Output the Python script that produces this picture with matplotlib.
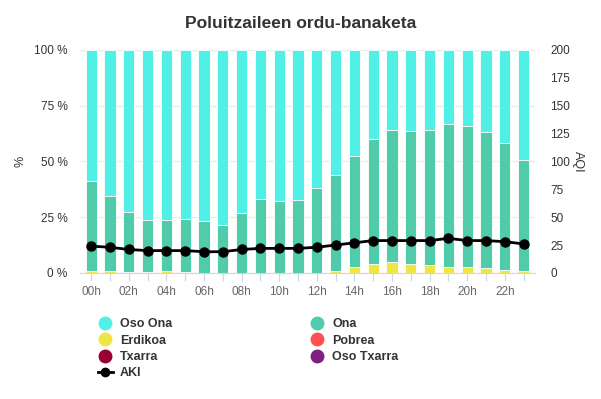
import numpy as np
import matplotlib
matplotlib.use('Agg')
from matplotlib import pyplot as plt
from matplotlib.lines import Line2D

plt.rcParams['font.family'] = ['Liberation Sans', 'DejaVu Sans']

hours = ['%02dh' % h for h in range(24)]
# percentage of hours in each category (stacked bottom to top)
erdikoa = [1.0, 1.0, 0.5, 0.5, 1.0, 0.5, 0, 0, 0, 0, 0, 0,
           0, 1.0, 2.8, 4.2, 4.9, 4.2, 3.7, 2.8, 2.8, 2.2, 1.3, 0.8]
ona_top = [41.3, 34.5, 27.4, 23.8, 23.8, 24.2, 23.3, 21.5, 26.9, 33.2, 32.3, 32.7,
           37.9, 44.0, 52.3, 60.0, 64.0, 63.7, 64.0, 66.7, 65.9, 63.1, 58.2, 50.6]
aqi = [24, 23, 21, 20, 20, 20, 19, 19, 21, 22, 22, 22,
       23, 25, 27, 29, 29, 29, 29, 31, 29, 29, 28, 26]

colors = {'Oso Ona': '#50F0E6', 'Ona': '#50CCAA', 'Erdikoa': '#F0E641',
          'Pobrea': '#FF5050', 'Txarra': '#960032', 'Oso Txarra': '#7D2181'}

erdikoa = np.array(erdikoa)
ona = np.array(ona_top) - erdikoa
oso_ona = 100 - np.array(ona_top)
x = np.arange(len(hours))

fig = plt.figure(figsize=(6.01, 3.99), dpi=100)
ax = fig.add_axes([0.133, 0.316, 0.757, 0.559])
ax2 = ax.twinx()

w = 0.6
ax.bar(x, erdikoa, w, color=colors['Erdikoa'], edgecolor='white', linewidth=0.6, zorder=2)
ax.bar(x, ona, w, bottom=erdikoa, color=colors['Ona'], edgecolor='white', linewidth=0.6, zorder=2)
ax.bar(x, oso_ona, w, bottom=erdikoa + ona, color=colors['Oso Ona'], edgecolor='white', linewidth=0.6, zorder=2)

ax2.plot(x, aqi, color='black', lw=2, marker='o', ms=6.5, zorder=3)

ax.set_xlim(-0.6, 23.6)
ax.set_ylim(0, 100)
ax2.set_ylim(0, 200)
ax.set_yticks([0, 25, 50, 75, 100])
ax.set_yticklabels(['%d %%' % v for v in [0, 25, 50, 75, 100]])
ax2.set_yticks(range(0, 201, 25))
ax.set_xticks(x)
ax.set_xticklabels([h if i % 2 == 0 else '' for i, h in enumerate(hours)])
ax.grid(axis='y', color='#ebebeb', lw=1, zorder=0)
ax.set_axisbelow(True)

for a in (ax, ax2):
    for s in a.spines.values():
        s.set_visible(False)
ax.spines['bottom'].set_visible(True)
ax.spines['bottom'].set_color('#ccd6eb')
ax.tick_params(axis='x', colors='#ccd6eb', length=6, labelcolor='#666666', labelsize=8.5)
ax.tick_params(axis='y', length=0, labelsize=8.5, labelcolor='#333333', pad=9)
ax2.tick_params(axis='y', length=0, labelsize=8.5, labelcolor='#333333', pad=11)

ax.set_ylabel('%', fontsize=9, color='#333333', va='center')
ax2.set_ylabel('AQI', fontsize=9, color='#333333', rotation=270, va='center')
# label positions in axes fraction (axes is 455 px wide starting at x=80)
ax.yaxis.set_label_coords((21 - 80) / 455.0, 0.5)
ax2.yaxis.set_label_coords((578 - 80) / 455.0, 0.5)
ax2.set_zorder(ax.get_zorder() + 1)
ax2.patch.set_visible(False)

fig.text(0.5, 0.94, 'Poluitzaileen ordu-banaketa', ha='center', va='center',
         fontsize=12.5, fontweight='bold', color='#333333')

def dot(c):
    return Line2D([], [], ls='none', marker='o', ms=9, color=c)

handles = [dot(colors['Oso Ona']), dot(colors['Erdikoa']), dot(colors['Txarra']),
           Line2D([], [], color='black', lw=2, marker='o', ms=6),
           dot(colors['Ona']), dot(colors['Pobrea']), dot(colors['Oso Txarra'])]
labels = ['Oso Ona', 'Erdikoa', 'Txarra', 'AKI', 'Ona', 'Pobrea', 'Oso Txarra']
leg = fig.legend(handles, labels, ncol=2, loc='upper left', bbox_to_anchor=(0.152, 0.218),
                 frameon=False, prop={'weight': 'bold', 'size': 9}, handlelength=1.2,
                 handletextpad=0.6, columnspacing=11.0, labelspacing=0.35, borderpad=0)
for t in leg.get_texts():
    t.set_color('#333333')

fig.savefig('out.png', dpi=100)
